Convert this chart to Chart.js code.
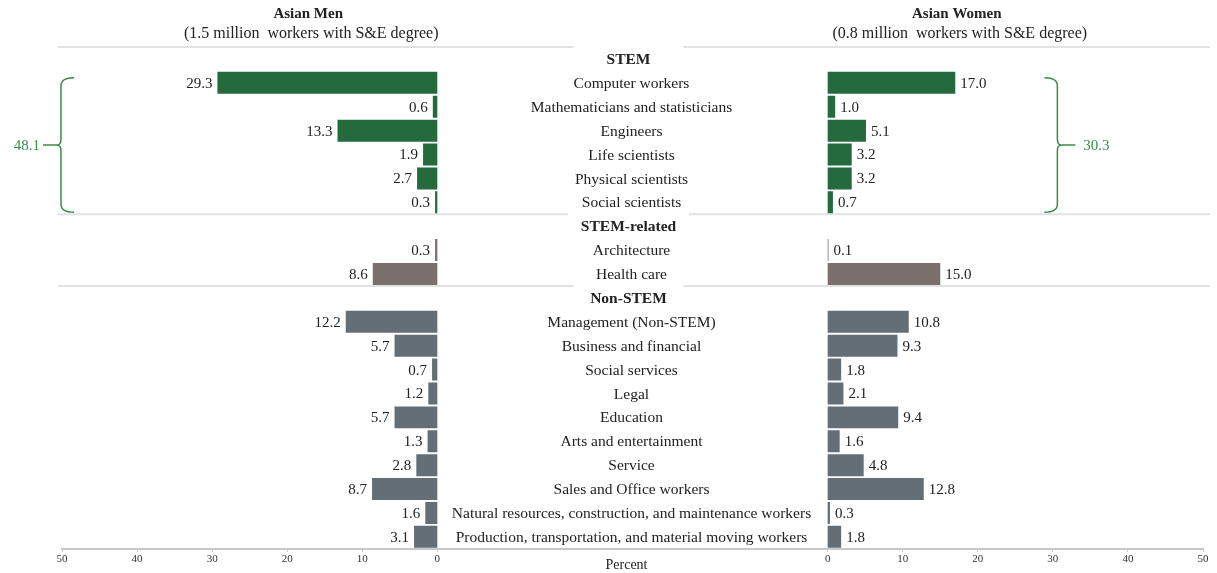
<!DOCTYPE html>
<html>
<head>
<meta charset="utf-8">
<script src="https://cdn.jsdelivr.net/npm/chart.js@4.4.1/dist/chart.umd.min.js"></script>
<style>
  html, body { margin: 0; padding: 0; background: #fff; }
  #wrap { width: 1217px; height: 573px; }
</style>
</head>
<body>
<div id="wrap"><canvas id="chart" width="1217" height="573"></canvas></div>
<script>
// --- data (percent of workers with S&E degree) ---
const stemJobs = ['Computer workers', 'Mathematicians and statisticians', 'Engineers',
  'Life scientists', 'Physical scientists', 'Social scientists'];
const stemMen = [29.3, 0.6, 13.3, 1.9, 2.7, 0.3];
const stemWomen = [17.0, 1.0, 5.1, 3.2, 3.2, 0.7];

const relatedJobs = ['Architecture', 'Health care'];
const relatedMen = [0.3, 8.6];
const relatedWomen = [0.1, 15.0];

const nonStemJobs = ['Management (Non-STEM)', 'Business and financial', 'Social services', 'Legal',
  'Education', 'Arts and entertainment', 'Service', 'Sales and Office workers',
  'Natural resources, construction, and maintenance workers',
  'Production, transportation, and material moving workers'];
const nonStemMen = [12.2, 5.7, 0.7, 1.2, 5.7, 1.3, 2.8, 8.7, 1.6, 3.1];
const nonStemWomen = [10.8, 9.3, 1.8, 2.1, 9.4, 1.6, 4.8, 12.8, 0.3, 1.8];

const stemTotalMen = 48.1;
const stemTotalWomen = 30.3;

const tickValues = [0, 10, 20, 30, 40, 50];
const panelTitles = ['Asian Men', 'Asian Women'];
const panelSubtitles = ['(1.5 million  workers with S&E degree)', '(0.8 million  workers with S&E degree)'];

// gap (in axis units) on each side of the centre, where the occupation names sit
const GAP = 26;
const MAXV = 50;
const FONT = '"Liberation Serif", "Times New Roman", serif';
const TEXT = '#222';
const BRACE = '#3c8a4c';

const groups = [
  { name: 'STEM', jobs: stemJobs, men: stemMen, women: stemWomen, color: '#256a3c' },
  { name: 'STEM-related', jobs: relatedJobs, men: relatedMen, women: relatedWomen, color: '#7a6f6c' },
  { name: 'Non-STEM', jobs: nonStemJobs, men: nonStemMen, women: nonStemWomen, color: '#636e77' }
];

const labels = [];
const menData = [];
const womenData = [];
const barColors = [];
const headerRows = [];

groups.forEach(g => {
  headerRows.push(labels.length);
  labels.push(g.name);
  menData.push(null);
  womenData.push(null);
  barColors.push(g.color);
  g.jobs.forEach((job, i) => {
    labels.push(job);
    menData.push([-GAP - g.men[i], -GAP]);
    womenData.push([GAP, GAP + g.women[i]]);
    barColors.push(g.color);
  });
});

const valueOf = (i, side) => {
  const d = side === 'men' ? menData[i] : womenData[i];
  return d ? Math.abs(d[1] - d[0]) : null;
};

const overlay = {
  id: 'overlay',
  beforeDatasetsDraw(chart) {
    const { ctx, chartArea, scales: { y } } = chart;
    const row = y.getPixelForValue(1) - y.getPixelForValue(0);
    ctx.save();
    ctx.strokeStyle = '#e2e2e2';
    ctx.lineWidth = 2;
    headerRows.forEach(r => {
      const yy = y.getPixelForValue(r) - row / 2;
      ctx.beginPath();
      ctx.moveTo(chartArea.left - 4, yy);
      ctx.lineTo(chartArea.right + 7, yy);
      ctx.stroke();
    });
    ctx.restore();
  },
  afterDatasetsDraw(chart) {
    const { ctx, chartArea, scales: { x, y } } = chart;
    const cx = x.getPixelForValue(0);
    const row = y.getPixelForValue(1) - y.getPixelForValue(0);
    ctx.save();
    ctx.textBaseline = 'middle';

    // centre labels
    labels.forEach((lab, i) => {
      const yy = y.getPixelForValue(i);
      const isHeader = headerRows.includes(i);
      ctx.font = (isHeader ? 'bold ' : '') + '15.5px ' + FONT;
      if (isHeader) {
        const w = Math.max(ctx.measureText(lab).width + 26, 110);
        ctx.fillStyle = '#fff';
        ctx.fillRect(cx - 4 - w / 2, yy - row / 2 - 2, w, 4);
      }
      ctx.fillStyle = TEXT;
      ctx.textAlign = 'center';
      ctx.fillText(lab, isHeader ? cx - 4 : cx - 1, yy + 1);
    });

    // value labels
    ctx.font = '15px ' + FONT;
    ctx.fillStyle = TEXT;
    labels.forEach((lab, i) => {
      const yy = y.getPixelForValue(i) + 1;
      const m = valueOf(i, 'men');
      const w = valueOf(i, 'women');
      if (m != null) {
        ctx.textAlign = 'right';
        ctx.fillText(m.toFixed(1), x.getPixelForValue(-GAP - m) - 5, yy);
      }
      if (w != null) {
        ctx.textAlign = 'left';
        ctx.fillText(w.toFixed(1), x.getPixelForValue(GAP + w) + 5, yy);
      }
    });

    // braces around the STEM rows
    const top = y.getPixelForValue(1) - 5;
    const bot = y.getPixelForValue(stemJobs.length) + 10;
    const mid = (top + bot) / 2;
    ctx.strokeStyle = BRACE;
    ctx.lineWidth = 1.5;
    const brace = (bx, dir) => {
      ctx.beginPath();
      ctx.moveTo(bx + dir * 13, top);
      ctx.quadraticCurveTo(bx, top, bx, top + 8);
      ctx.lineTo(bx, mid - 6);
      ctx.quadraticCurveTo(bx, mid, bx - dir * 4, mid);
      ctx.quadraticCurveTo(bx, mid, bx, mid + 6);
      ctx.lineTo(bx, bot - 8);
      ctx.quadraticCurveTo(bx, bot, bx + dir * 13, bot);
      ctx.moveTo(bx - dir * 4, mid);
      ctx.lineTo(bx - dir * 18, mid);
      ctx.stroke();
    };
    const lx = x.getPixelForValue(-GAP - MAXV) - 1;
    const rx = x.getPixelForValue(GAP + 30.6);
    brace(lx, 1);
    brace(rx, -1);
    ctx.fillStyle = BRACE;
    ctx.font = '15px ' + FONT;
    ctx.textAlign = 'right';
    ctx.fillText(stemTotalMen.toFixed(1), lx - 21, mid + 1);
    ctx.textAlign = 'left';
    ctx.fillText(stemTotalWomen.toFixed(1), rx + 26, mid + 1);

    // panel titles
    ctx.fillStyle = TEXT;
    ctx.textAlign = 'center';
    [-1, 1].forEach((s, k) => {
      const tx = x.getPixelForValue(s * (GAP + 17.2));
      ctx.font = 'bold 15px ' + FONT;
      ctx.fillText(panelTitles[k], tx, 14);
      ctx.font = '16px ' + FONT;
      ctx.fillText(panelSubtitles[k], tx + 3, 34);
    });

    // axis title
    ctx.font = '14px ' + FONT;
    ctx.fillText('Percent', cx - 6, chartArea.bottom + 17);
    ctx.restore();
  }
};

new Chart(document.getElementById('chart'), {
  type: 'bar',
  data: {
    labels,
    datasets: [
      { label: panelTitles[0], data: menData, backgroundColor: barColors,
        barPercentage: 0.92, categoryPercentage: 1, grouped: false },
      { label: panelTitles[1], data: womenData, backgroundColor: barColors,
        barPercentage: 0.92, categoryPercentage: 1, grouped: false }
    ]
  },
  options: {
    indexAxis: 'y',
    responsive: false,
    animation: false,
    layout: { padding: { top: 47, left: 62, right: 14, bottom: 6 } },
    plugins: { legend: { display: false }, tooltip: { enabled: false }, title: { display: false } },
    scales: {
      x: {
        type: 'linear',
        min: -(GAP + MAXV),
        max: GAP + MAXV,
        afterBuildTicks: scale => {
          const left = tickValues.map(t => -GAP - t).reverse();
          const right = tickValues.map(t => GAP + t);
          scale.ticks = left.concat(right).map(v => ({ value: v }));
        },
        ticks: {
          autoSkip: false,
          maxRotation: 0,
          padding: 1,
          color: '#333',
          font: { family: FONT, size: 11 },
          callback: v => Math.abs(v) - GAP
        },
        grid: { drawOnChartArea: false, drawTicks: true, tickLength: 3, color: '#c4c4c4' },
        border: { display: true, color: '#c8c8c8', width: 2 }
      },
      y: { display: false, grid: { display: false } }
    }
  },
  plugins: [overlay]
});
</script>
</body>
</html>
